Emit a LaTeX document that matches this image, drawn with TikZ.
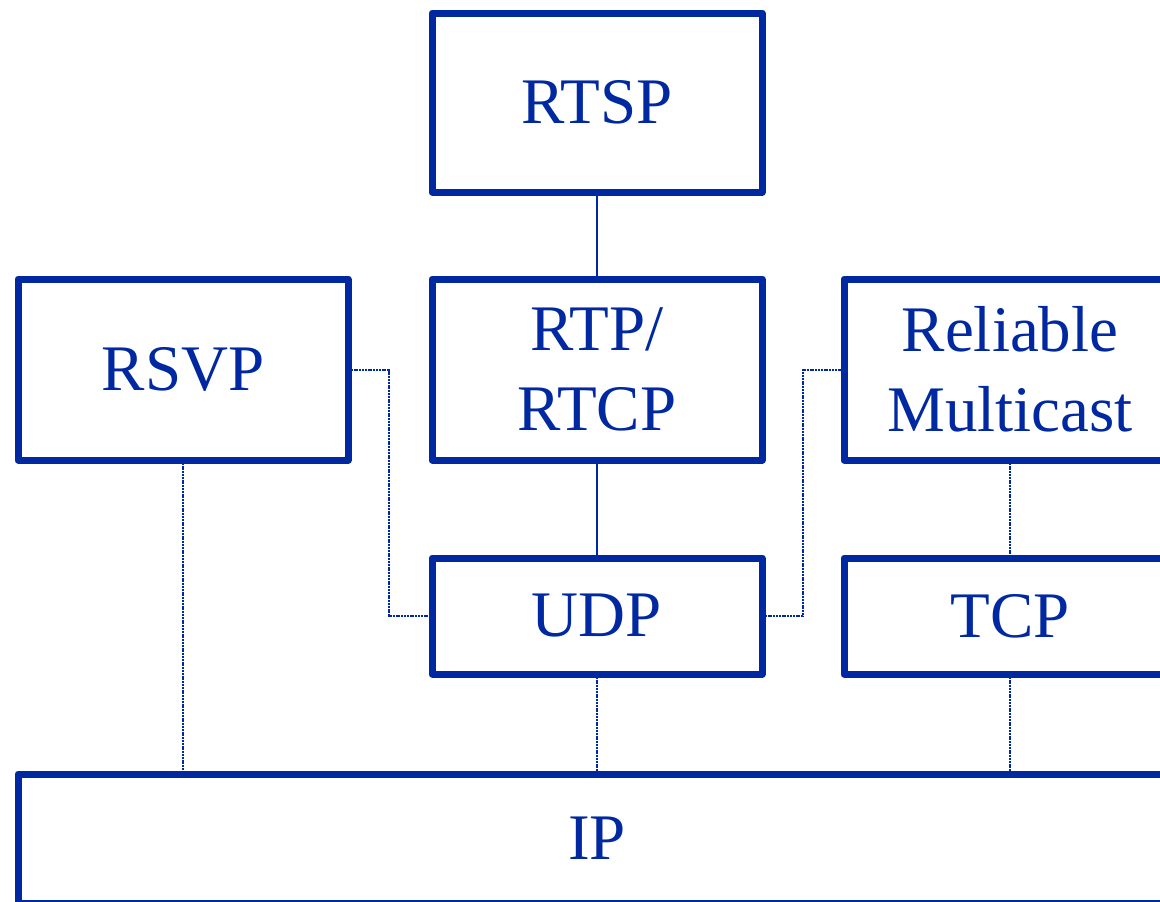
\documentclass[tikz,border=0pt]{standalone}
\usepackage{fontspec}
\setmainfont{Liberation Serif}
\definecolor{netblue}{RGB}{0,40,160}
\tikzset{
  layerbox/.style={draw=netblue, line width=7pt, line join=round, rectangle, inner sep=0pt, outer sep=0pt,
    text=netblue, align=center, font=\fontsize{65}{80}\selectfont},
  solidlink/.style={draw=netblue, line width=1.8pt},
  dotlink/.style={draw=netblue, line width=2pt, dash pattern=on 2pt off 0.8pt},
}
\begin{document}
\begin{tikzpicture}[x=1pt,y=-1pt]
\useasboundingbox (0,0) rectangle (1160,902);
\clip (0,0) rectangle (1160,902);
\node[layerbox, minimum width=330pt, minimum height=179pt] (rtsp) at (597,102.5) {RTSP};
\node[layerbox, minimum width=330pt, minimum height=181pt] (rsvp) at (183,369.5) {RSVP};
\node[layerbox, minimum width=330pt, minimum height=181pt] (rtp) at (597,369.5) {RTP/\\RTCP};
\node[layerbox, minimum width=332pt, minimum height=181pt] (rm) at (1010,369.5) {Reliable\\Multicast};
\node[layerbox, minimum width=330pt, minimum height=116pt] (udp) at (597,616) {UDP};
\node[layerbox, minimum width=332pt, minimum height=116pt] (tcp) at (1010,616) {TCP};
\node[layerbox, minimum width=1158pt, minimum height=129pt] (ip) at (597,838.5) {IP};
\draw[solidlink] (rtsp.south) -- (rtp.north);
\draw[solidlink] (rtp.south) -- (udp.north);
\draw[dotlink] (rsvp.east) -- ++(41,0) coordinate (a) |- (udp.west);
\draw[dotlink] (udp.east) -- ++(41,0) coordinate (b) |- (rm.west);
\draw[dotlink] (rm.south) -- (tcp.north);
\draw[dotlink] (rsvp.south) -- (rsvp.south |- ip.north);
\draw[dotlink] (udp.south) -- (udp.south |- ip.north);
\draw[dotlink] (tcp.south) -- (tcp.south |- ip.north);
\end{tikzpicture}
\end{document}
